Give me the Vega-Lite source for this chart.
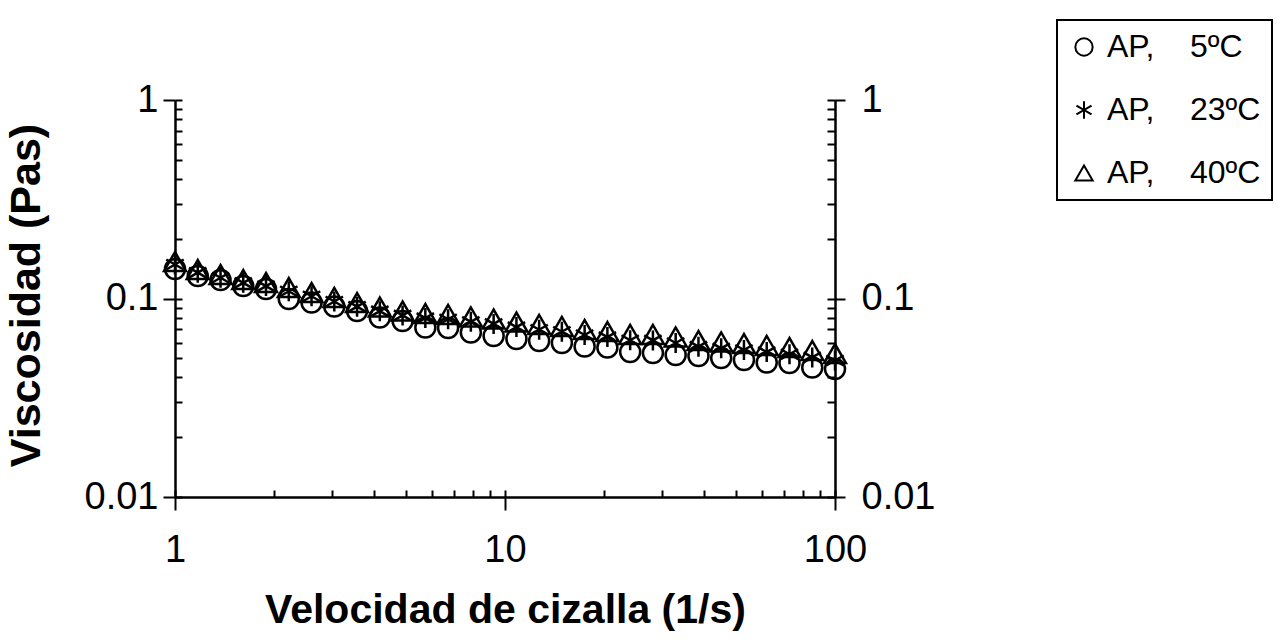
{
  "$schema": "https://vega.github.io/schema/vega-lite/v6.json",
  "width": 660,
  "height": 397,
  "autosize": {"type": "none"},
  "padding": {"left": 175, "top": 100, "right": 443, "bottom": 147},
  "background": "white",
  "config": {
    "view": {"stroke": null},
    "font": "Liberation Sans",
    "axis": {"grid": false, "tickColor": "black", "domainColor": "black", "labelColor": "black", "titleColor": "black", "tickWidth": 2, "domainWidth": 2.5, "labelFont": "Liberation Sans", "titleFont": "Liberation Sans"},
    "legend": {"strokeWidth": 2}
  },
  "datasets": {
    "d": [
      {"x": 1, "v": 0.1408, "s": "5"}, {"x": 1.172, "v": 0.1298, "s": "5"}, {"x": 1.374, "v": 0.1239, "s": "5"}, {"x": 1.61, "v": 0.1156, "s": "5"}, {"x": 1.887, "v": 0.1116, "s": "5"},
      {"x": 2.212, "v": 0.0994, "s": "5"}, {"x": 2.593, "v": 0.0954, "s": "5"}, {"x": 3.039, "v": 0.0911, "s": "5"}, {"x": 3.562, "v": 0.0865, "s": "5"}, {"x": 4.175, "v": 0.0802, "s": "5"},
      {"x": 4.894, "v": 0.077, "s": "5"}, {"x": 5.736, "v": 0.0714, "s": "5"}, {"x": 6.723, "v": 0.071, "s": "5"}, {"x": 7.88, "v": 0.0674, "s": "5"}, {"x": 9.237, "v": 0.0647, "s": "5"},
      {"x": 10.83, "v": 0.0625, "s": "5"}, {"x": 12.69, "v": 0.0611, "s": "5"}, {"x": 14.87, "v": 0.0597, "s": "5"}, {"x": 17.43, "v": 0.0573, "s": "5"}, {"x": 20.43, "v": 0.0566, "s": "5"},
      {"x": 23.95, "v": 0.0538, "s": "5"}, {"x": 28.07, "v": 0.0531, "s": "5"}, {"x": 32.9, "v": 0.0519, "s": "5"}, {"x": 38.57, "v": 0.0513, "s": "5"}, {"x": 45.2, "v": 0.0501, "s": "5"},
      {"x": 52.98, "v": 0.049, "s": "5"}, {"x": 62.1, "v": 0.0476, "s": "5"}, {"x": 72.79, "v": 0.0473, "s": "5"}, {"x": 85.32, "v": 0.0449, "s": "5"}, {"x": 100, "v": 0.0441, "s": "5"},
      {"x": 1, "v": 0.1484, "s": "23"}, {"x": 1.172, "v": 0.135, "s": "23"}, {"x": 1.374, "v": 0.1272, "s": "23"}, {"x": 1.61, "v": 0.1199, "s": "23"}, {"x": 1.887, "v": 0.1155, "s": "23"},
      {"x": 2.212, "v": 0.1088, "s": "23"}, {"x": 2.593, "v": 0.1026, "s": "23"}, {"x": 3.039, "v": 0.0966, "s": "23"}, {"x": 3.562, "v": 0.091, "s": "23"}, {"x": 4.175, "v": 0.0863, "s": "23"},
      {"x": 4.894, "v": 0.0822, "s": "23"}, {"x": 5.736, "v": 0.0797, "s": "23"}, {"x": 6.723, "v": 0.0786, "s": "23"}, {"x": 7.88, "v": 0.0763, "s": "23"}, {"x": 9.237, "v": 0.0745, "s": "23"},
      {"x": 10.83, "v": 0.0718, "s": "23"}, {"x": 12.69, "v": 0.0696, "s": "23"}, {"x": 14.87, "v": 0.068, "s": "23"}, {"x": 17.43, "v": 0.0655, "s": "23"}, {"x": 20.43, "v": 0.0639, "s": "23"},
      {"x": 23.95, "v": 0.0616, "s": "23"}, {"x": 28.07, "v": 0.0615, "s": "23"}, {"x": 32.9, "v": 0.0597, "s": "23"}, {"x": 38.57, "v": 0.0572, "s": "23"}, {"x": 45.2, "v": 0.0561, "s": "23"},
      {"x": 52.98, "v": 0.055, "s": "23"}, {"x": 62.1, "v": 0.0537, "s": "23"}, {"x": 72.79, "v": 0.0524, "s": "23"}, {"x": 85.32, "v": 0.0505, "s": "23"}, {"x": 100, "v": 0.0487, "s": "23"},
      {"x": 1, "v": 0.1536, "s": "40"}, {"x": 1.172, "v": 0.14, "s": "40"}, {"x": 1.374, "v": 0.1321, "s": "40"}, {"x": 1.61, "v": 0.1246, "s": "40"}, {"x": 1.887, "v": 0.1204, "s": "40"},
      {"x": 2.212, "v": 0.1136, "s": "40"}, {"x": 2.593, "v": 0.1072, "s": "40"}, {"x": 3.039, "v": 0.1012, "s": "40"}, {"x": 3.562, "v": 0.0954, "s": "40"}, {"x": 4.175, "v": 0.0906, "s": "40"},
      {"x": 4.894, "v": 0.0865, "s": "40"}, {"x": 5.736, "v": 0.084, "s": "40"}, {"x": 6.723, "v": 0.0831, "s": "40"}, {"x": 7.88, "v": 0.0807, "s": "40"}, {"x": 9.237, "v": 0.0788, "s": "40"},
      {"x": 10.83, "v": 0.0761, "s": "40"}, {"x": 12.69, "v": 0.074, "s": "40"}, {"x": 14.87, "v": 0.0723, "s": "40"}, {"x": 17.43, "v": 0.0698, "s": "40"}, {"x": 20.43, "v": 0.0682, "s": "40"},
      {"x": 23.95, "v": 0.0659, "s": "40"}, {"x": 28.07, "v": 0.0659, "s": "40"}, {"x": 32.9, "v": 0.064, "s": "40"}, {"x": 38.57, "v": 0.0614, "s": "40"}, {"x": 45.2, "v": 0.0604, "s": "40"},
      {"x": 52.98, "v": 0.0593, "s": "40"}, {"x": 62.1, "v": 0.058, "s": "40"}, {"x": 72.79, "v": 0.0566, "s": "40"}, {"x": 85.32, "v": 0.0547, "s": "40"}, {"x": 100, "v": 0.0528, "s": "40"}
    ]
  },
  "data": {"name": "d"},
  "resolve": {"axis": {"x": "independent", "y": "independent"}},
  "layer": [
    {
      "transform": [{"filter": "datum.s === '5'"}],
      "mark": {"type": "point", "filled": false, "color": "black", "strokeWidth": 2.5, "size": 400, "opacity": 1},
      "encoding": {
        "x": {"field": "x", "type": "quantitative", "scale": {"type": "log", "domain": [1, 100], "nice": false},
          "axis": {"orient": "bottom", "values": [1, 10, 100], "format": "~g", "tickSize": 13, "labelFontSize": 38, "labelPadding": 21, "labelFlush": false, "labelOverlap": false,
            "title": "Velocidad de cizalla (1/s)", "titleFontSize": 41, "titleFontWeight": "bold", "titleX": 330, "titleY": 125, "titleBaseline": "alphabetic", "titleAlign": "center"}},
        "y": {"field": "v", "type": "quantitative", "scale": {"type": "log", "domain": [0.01, 1], "nice": false},
          "axis": {"orient": "left", "values": [0.01, 0.1, 1], "format": "~g", "tickSize": 12, "labelFontSize": 38, "labelPadding": 5, "labelOverlap": false, "labelBaseline": "middle",
            "title": "Viscosidad (Pas)", "titleFontSize": 43, "titleFontWeight": "bold", "titleAngle": 270, "titleX": -136, "titleY": 195, "titleBaseline": "alphabetic", "titleAlign": "center"}},
        "shape": {"field": "s", "type": "nominal",
          "scale": {"domain": ["5", "23", "40"], "range": ["circle", "M0,-1L0,1M-0.87,-0.5L0.87,0.5M-0.87,0.5L0.87,-0.5", "triangle-up"]},
          "legend": {"title": null, "orient": "none", "legendX": 882, "legendY": -80, "direction": "vertical",
            "labelExpr": "'AP,\u00a0\u00a0\u00a0\u00a0' + datum.label + 'ºC'", "labelFontSize": 32, "labelFont": "Liberation Sans", "labelColor": "black", "labelLimit": 400, "labelOffset": 7,
            "symbolSize": 300, "symbolStrokeWidth": 2, "symbolStrokeColor": "black", "symbolFillColor": "transparent",
            "padding": 11, "strokeColor": "black", "rowPadding": 31}}
      }
    },
    {
      "transform": [{"filter": "datum.s === '23'"}],
      "mark": {"type": "point", "filled": false, "color": "black", "strokeWidth": 2.5, "size": 400, "opacity": 1},
      "encoding": {
        "x": {"field": "x", "type": "quantitative", "scale": {"type": "log", "domain": [1, 100], "nice": false},
          "axis": {"orient": "bottom", "values": [1, 2, 3, 4, 5, 6, 7, 8, 9, 10, 20, 30, 40, 50, 60, 70, 80, 90, 100], "tickSize": -7, "domain": false, "labels": false, "title": null}},
        "y": {"field": "v", "type": "quantitative", "scale": {"type": "log", "domain": [0.01, 1], "nice": false},
          "axis": {"orient": "left", "values": [0.01, 0.02, 0.03, 0.04, 0.05, 0.06, 0.07, 0.08, 0.09, 0.1, 0.2, 0.3, 0.4, 0.5, 0.6, 0.7, 0.8, 0.9, 1], "tickSize": -7, "domain": false, "labels": false, "title": null}},
        "shape": {"field": "s", "type": "nominal"}
      }
    },
    {
      "transform": [{"filter": "datum.s === '40'"}],
      "mark": {"type": "point", "filled": false, "color": "black", "strokeWidth": 2.5, "size": 480, "opacity": 1},
      "encoding": {
        "x": {"field": "x", "type": "quantitative", "scale": {"type": "log", "domain": [1, 100], "nice": false}, "axis": null},
        "y": {"field": "v", "type": "quantitative", "scale": {"type": "log", "domain": [0.01, 1], "nice": false},
          "axis": {"orient": "right", "values": [0.01, 0.1, 1], "format": "~g", "tickSize": 10, "labelFontSize": 38, "labelPadding": 16, "labelOverlap": false, "labelBaseline": "middle", "title": null}},
        "shape": {"field": "s", "type": "nominal"}
      }
    },
    {
      "mark": {"type": "text", "text": ""},
      "encoding": {
        "x": {"field": "x", "type": "quantitative", "scale": {"type": "log", "domain": [1, 100], "nice": false}, "axis": null},
        "y": {"field": "v", "type": "quantitative", "scale": {"type": "log", "domain": [0.01, 1], "nice": false},
          "axis": {"orient": "right", "values": [0.01, 0.02, 0.03, 0.04, 0.05, 0.06, 0.07, 0.08, 0.09, 0.1, 0.2, 0.3, 0.4, 0.5, 0.6, 0.7, 0.8, 0.9, 1], "tickSize": -8, "domain": false, "labels": false, "title": null}}
      }
    }
  ]
}
